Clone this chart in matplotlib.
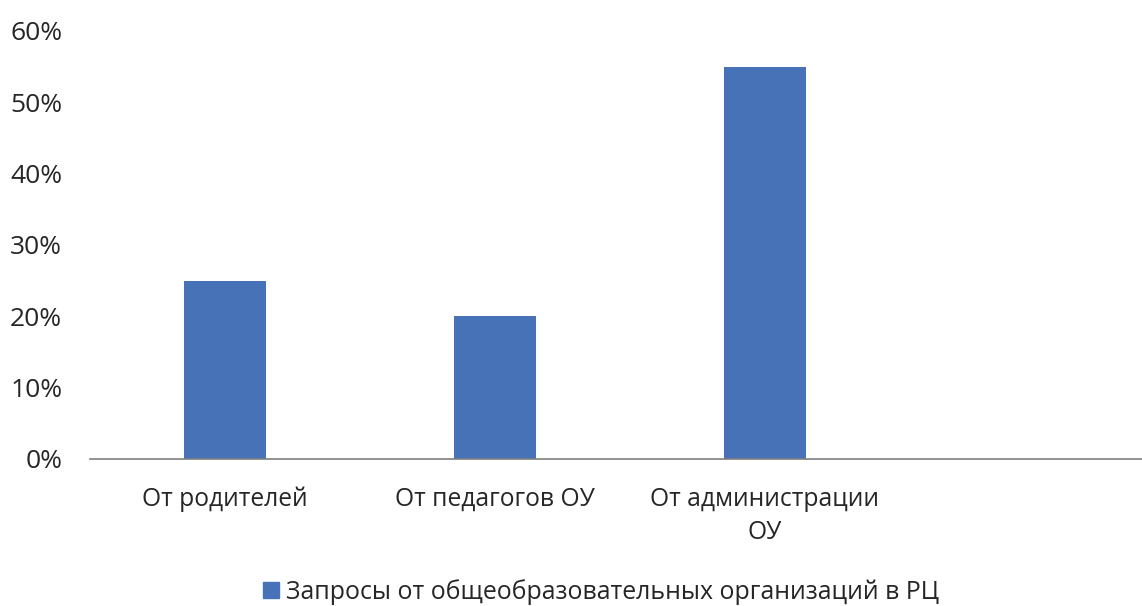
import matplotlib
matplotlib.use("Agg")
import matplotlib.pyplot as plt
from matplotlib.patches import Patch
from matplotlib.ticker import PercentFormatter

categories = ["От родителей", "От педагогов ОУ", "От администрации\nОУ", ""]
values = [0.25, 0.20, 0.55, None]
series_name = "Запросы от общеобразовательных организаций в РЦ"
yticks = [0, 0.1, 0.2, 0.3, 0.4, 0.5, 0.6]

bar_color = "#4872B8"
text_color = "#262626"

plt.rcParams["font.family"] = ["Open Sans", "DejaVu Sans"]

W, H = 1142, 606
fig = plt.figure(figsize=(W / 100, H / 100), dpi=100)
ax = fig.add_axes([90 / W, 1 - 459 / H, 1 - 90 / W, (459 - 31) / H])

xs = [i for i, v in enumerate(values) if v is not None]
ys = [v for v in values if v is not None]
ax.bar(xs, ys, width=0.307, color=bar_color, zorder=2)

ax.set_xlim(-0.5, -0.5 + (W - 90) / 270)
ax.set_ylim(0, 0.6)
ax.set_yticks(yticks)
ax.yaxis.set_major_formatter(PercentFormatter(1.0, decimals=0))
ax.set_xticks(range(len(categories)))
ax.set_xticklabels(categories, linespacing=1.45)

for side in ("top", "right", "left"):
    ax.spines[side].set_visible(False)
ax.spines["bottom"].set_color("#7f7f7f")
ax.spines["bottom"].set_linewidth(1.2)

ax.tick_params(axis="both", length=0, colors=text_color)
ax.tick_params(axis="x", labelsize=17.7, pad=20)
ax.tick_params(axis="y", labelsize=19, pad=20)

fig.legend(handles=[Patch(color=bar_color, label=series_name)],
           loc="center", bbox_to_anchor=(601 / W, 1 - 592 / H), frameon=False,
           fontsize=17.9, handlelength=0.65, handleheight=0.65, handletextpad=0.3,
           labelcolor=text_color)

fig.savefig("out.png", dpi=100)
